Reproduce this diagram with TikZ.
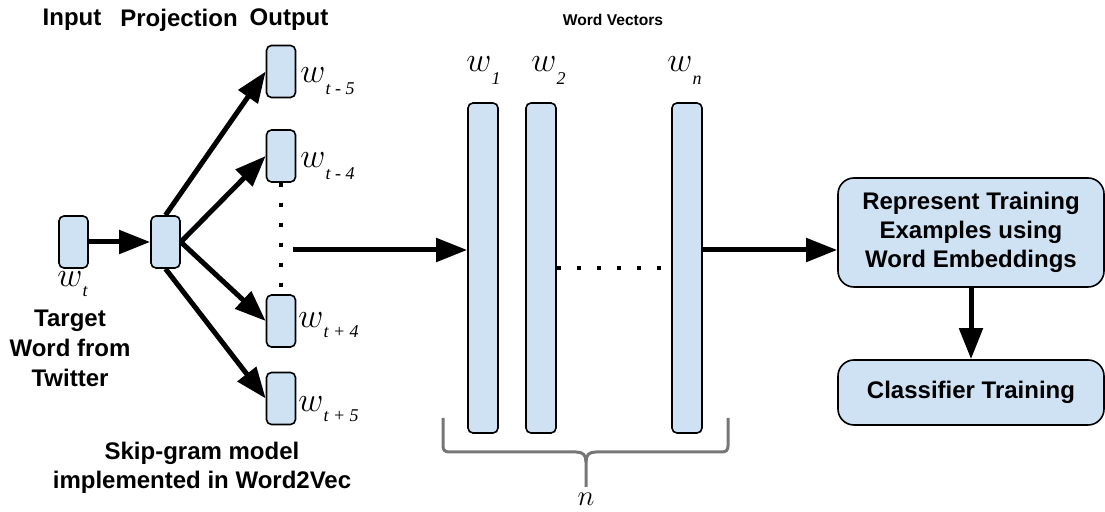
\documentclass[tikz,border=0pt]{standalone}
\usepackage{fontspec}
\setmainfont{Liberation Sans}
\newfontfamily\subfont{Liberation Serif}
\usetikzlibrary{arrows.meta}
\definecolor{cellblue}{HTML}{CFE2F3}
\definecolor{bracegray}{HTML}{767676}
% word symbol with a dropped italic index: \wlab{drop}{index}
\newcommand{\wlab}[2]{{\fontsize{16}{16}\selectfont$w$}\raisebox{-#1}{\subfont\itshape\fontsize{9}{9}\selectfont #2}}
\tikzset{
  cell/.style={draw=black, line width=0.8pt, fill=cellblue, rounded corners=2.5pt,
    inner sep=0pt, minimum width=14.5pt, minimum height=26pt},
  bar/.style={cell, minimum width=15pt, minimum height=165pt},
  stage/.style={draw=black, line width=0.8pt, fill=cellblue, rounded corners=8pt,
    minimum width=133pt, align=center, inner sep=0pt,
    font=\bfseries\fontsize{12}{14.4}\selectfont},
  flow/.style={line width=2.5pt, -{Triangle[length=15.5pt,width=11.5pt]}},
  dotline/.style={line width=2pt, dash pattern=on 2pt off 8pt},
  heading/.style={font=\bfseries\fontsize{12}{15}\selectfont, align=center, inner sep=0pt},
  wlabel/.style={anchor=base west, inner sep=0pt},
  brace/.style={draw=bracegray, line width=1.5pt}
}
\begin{document}
\begin{tikzpicture}[x=0.5pt, y=-0.5pt]
\useasboundingbox (0,0) rectangle (1105,512);

% column headings
\node[heading] (hin) at (72,20) {Input};
\node[heading] (hproj) at (179,20) {Projection};
\node[heading] (hout) at (289,20) {Output};
\node[heading, font=\bfseries\fontsize{7.8}{9}\selectfont] (hwv) at (613,20) {Word Vectors};

% skip-gram network
\node[cell] (in) at (73.5,242) {};
\node[cell] (proj) at (165.5,242) {};
\node[cell] (o1) at (281,71.5) {};
\node[cell] (o2) at (281,156) {};
\node[cell] (o3) at (281,321) {};
\node[cell] (o4) at (281,398.5) {};

\node[wlabel] (lin) at (57,287) {\wlab{5pt}{t}};
\node[wlabel] (lo1) at (300,83) {\wlab{6pt}{t - 5}};
\node[wlabel] (lo2) at (300,168) {\wlab{6pt}{t - 4}};
\node[wlabel] (lo3) at (298,328) {\wlab{5pt}{t + 4}};
\node[wlabel] (lo4) at (298,412) {\wlab{5pt}{t + 5}};

\draw[flow] (in) -- (proj);
\draw[flow] (proj.north) -- (o1.west);
\draw[flow] (proj.east) -- (o2.west);
\draw[flow] (proj.east) -- (o3.west);
\draw[flow] (proj.south) -- (o4.west);
\draw[dotline] (o2.south) -- (o3.north);

\node[heading] (tw) at (70,348) {Target\\Word from\\Twitter};
\node[heading, font=\bfseries\fontsize{12}{14.5}\selectfont] (sg) at (202,467.5) {Skip-gram model\\implemented in Word2Vec};

% word vectors
\node[bar] (v1) at (483,268) {};
\node[bar] (v2) at (541,268) {};
\node[bar] (vn) at (687,268) {};
\node[wlabel] (l1) at (466,72) {\wlab{6.5pt}{1}};
\node[wlabel] (l2) at (531,72) {\wlab{6.5pt}{2}};
\node[wlabel] (ln) at (667,72) {\wlab{6.5pt}{n}};
\draw[dotline] (v2.east) -- (vn.west);

\coordinate (tap) at (293,250);
\draw[flow] (tap) -- (tap -| v1.west);

% brace under the vectors
\draw[brace] (443,418) -- (443,446) .. controls (443,450) and (445,452) .. (449,452)
  -- (576,452) .. controls (583,452) and (586,455) .. (586,462) -- (586,487);
\draw[brace] (728,418) -- (728,446) .. controls (728,450) and (726,452) .. (722,452)
  -- (596,452) .. controls (589,452) and (586,455) .. (586,462);
\node[anchor=base, inner sep=0pt] (nlab) at (586,506) {\fontsize{14}{14}\selectfont$n$};

% classification stages
\node[stage, minimum height=54.5pt] (rep) at (971,232.5) {Represent Training\\Examples using\\Word Embeddings};
\node[stage, minimum height=32.5pt] (cls) at (971,392.5) {Classifier Training};

\draw[flow] (vn.east |- tap) -- (rep.west |- tap);
\draw[flow] (rep.south) -- (cls.north);
\end{tikzpicture}
\end{document}
